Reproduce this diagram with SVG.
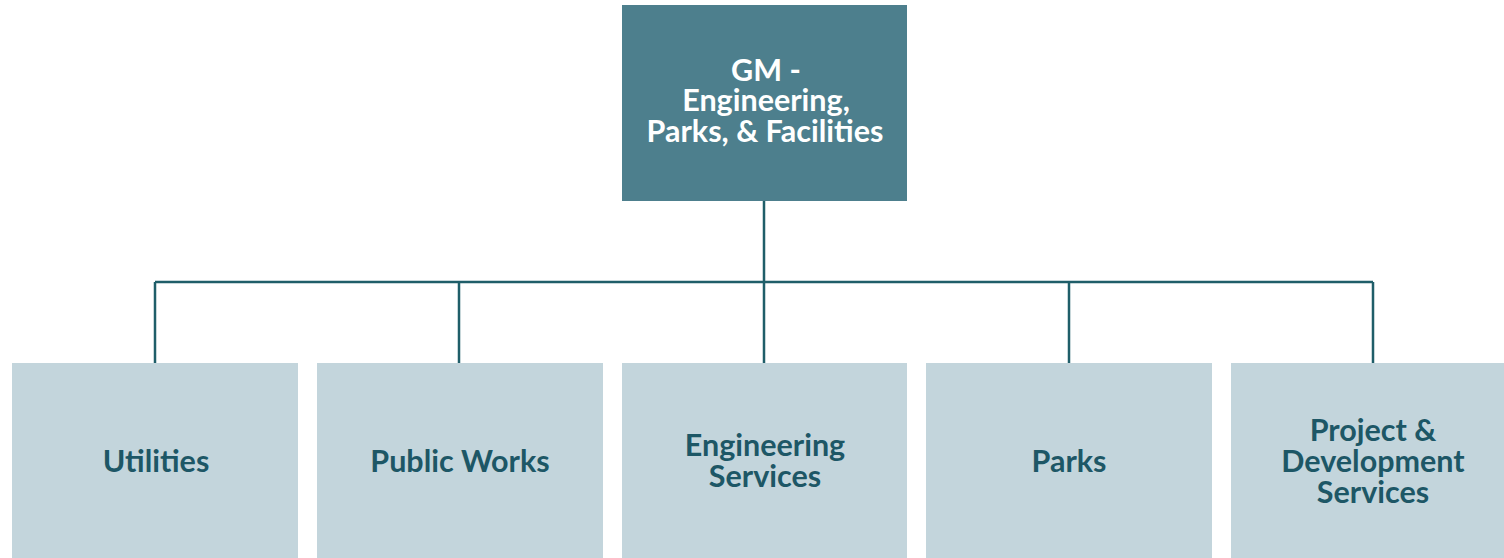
<svg xmlns="http://www.w3.org/2000/svg" width="1504" height="558" viewBox="0 0 1504 558">
<style>
.top{fill:#4d7f8d}
.sub{fill:#c3d5dc}
.tt{font-family:Lato,"Noto Sans",sans-serif;font-weight:700;font-size:30.5px;fill:#ffffff;text-anchor:middle}
.st{font-family:Lato,"Noto Sans",sans-serif;font-weight:700;font-size:30.5px;fill:#1d5766;text-anchor:middle}
.ln{stroke:#1f5e69;stroke-width:2.5;fill:none}
</style>
<rect width="1504" height="558" fill="#ffffff"/>
<g id="connectors">
<path class="ln" d="M764 201V282M155 282H1373M155 282V363M459 282V363M764 282V363M1069 282V363M1373 282V363"/>
</g>
<g id="gm">
<rect class="top" x="622" y="5" width="285" height="196"/>
<text class="tt" x="766" y="81">GM -</text>
<text class="tt" x="766" y="111">Engineering,</text>
<text class="tt" x="765" y="142">Parks, &amp; Facilities</text>
</g>
<g id="utilities">
<rect class="sub" x="12" y="363" width="286" height="195"/>
<text class="st" x="156" y="472">Utilities</text>
</g>
<g id="public-works">
<rect class="sub" x="317" y="363" width="286" height="195"/>
<text class="st" x="460" y="472">Public Works</text>
</g>
<g id="engineering-services">
<rect class="sub" x="622" y="363" width="285" height="195"/>
<text class="st" x="765" y="456">Engineering</text>
<text class="st" x="765" y="487">Services</text>
</g>
<g id="parks">
<rect class="sub" x="926" y="363" width="286" height="195"/>
<text class="st" x="1069" y="472">Parks</text>
</g>
<g id="project-development">
<rect class="sub" x="1231" y="363" width="285" height="195"/>
<text class="st" x="1373" y="441">Project &amp;</text>
<text class="st" x="1373" y="472">Development</text>
<text class="st" x="1373" y="503">Services</text>
</g>
</svg>
